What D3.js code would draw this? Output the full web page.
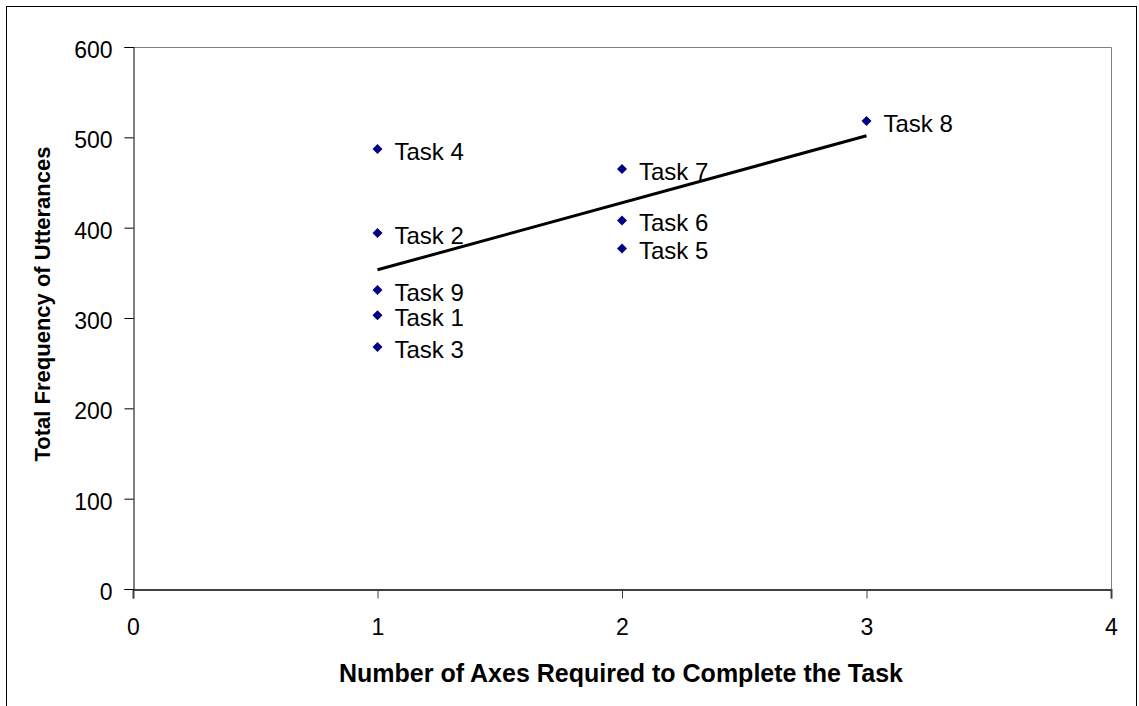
<!DOCTYPE html>
<html lang="en">
    <head>
        <meta charset="utf-8">
        <title>Utterances by Axes</title>
        <script src="https://d3js.org/d3.v7.min.js"></script>
        <style type="text/css">
            body { margin: 0; background: white; }
            text { font-family: "Liberation Sans", "Arial", sans-serif; fill: black; }
            .tick text { font-size: 23px; }
            .axis-title { font-size: 25px; font-weight: bold; }
            .y-title { font-size: 22px; }
            .label { font-size: 24px; }
        </style>
    </head>
    <body>
        <div id="chart"></div>
        <script type="text/javascript">

        //DATA
            const tasks = ["Task 1", "Task 2", "Task 3", "Task 4", "Task 5", "Task 6", "Task 7", "Task 8", "Task 9"];
            const axesNeeded = [1, 1, 1, 1, 2, 2, 2, 3, 1];
            const utterances = [303, 394, 268, 487, 377, 408, 465, 518, 331];
            const xTicks = [0, 1, 2, 3, 4];
            const yTicks = [0, 100, 200, 300, 400, 500, 600];

            const data = tasks.map((t, i) => ({task: t, x: axesNeeded[i], y: utterances[i]}));

        //CONSTANTS
            const w = 1139;
            const h = 706;
            const plotL = 133, plotR = 1111, plotT = 47, plotB = 589;

            const svg = d3.select("#chart")
                .append("svg")
                .attr("width", w)
                .attr("height", h);

            //outer frame
            svg.append("rect")
                .attr("x", 6.5).attr("y", 6.5)
                .attr("width", w - 9).attr("height", h)
                .attr("fill", "none")
                .attr("stroke", "black");

            //SCALES
            const xScale = d3.scaleLinear().domain([0, 4]).range([plotL, plotR]);
            const yScale = d3.scaleLinear().domain([0, 600]).range([plotB, plotT]);

            //plot frame (top + right)
            svg.append("path")
                .attr("d", `M${plotL},${plotT + 0.5}H${plotR + 0.5}V${plotB}`)
                .attr("fill", "none")
                .attr("stroke", "#808080");

            //AXES
            const bottomAxis = d3.axisBottom(xScale).tickValues(xTicks).tickFormat(d3.format("d"))
                                .tickSizeOuter(0).tickSize(9).tickPadding(20);
            const leftAxis = d3.axisLeft(yScale).tickValues(yTicks).tickFormat(d3.format("d"))
                                .tickSizeOuter(0).tickSize(9).tickPadding(12);

            const gx = svg.append("g")
                .attr("transform", "translate(0," + (plotB + 0.5) + ")")
                .call(bottomAxis);
            gx.select(".domain").attr("stroke", "#404040").attr("stroke-width", 2);
            gx.selectAll(".tick line").attr("stroke", "#404040");

            const gy = svg.append("g")
                .attr("transform", "translate(" + (plotL + 0.5) + ",0)")
                .call(leftAxis);
            gy.select(".domain").attr("stroke", "black");
            gy.selectAll(".tick line").attr("stroke", "black");
            gy.selectAll(".tick text").attr("dy", "0.45em");

            //TREND LINE (least squares)
            const mx = d3.mean(data, d => d.x), my = d3.mean(data, d => d.y);
            const slope = d3.sum(data, d => (d.x - mx) * (d.y - my)) / d3.sum(data, d => (d.x - mx) ** 2);
            const icpt = my - slope * mx;
            const [x0, x1] = d3.extent(data, d => d.x);
            svg.append("line")
                .attr("x1", xScale(x0)).attr("y1", yScale(icpt + slope * x0))
                .attr("x2", xScale(x1)).attr("y2", yScale(icpt + slope * x1))
                .attr("stroke", "black")
                .attr("stroke-width", 3);

            //POINTS
            svg.selectAll(".pt")
                .data(data)
                .enter()
                .append("path")
                .attr("class", "pt")
                .attr("d", "M0,-5L5,0L0,5L-5,0Z")
                .attr("transform", d => `translate(${xScale(d.x)},${yScale(d.y)})`)
                .attr("fill", "#000080");

            svg.selectAll(".label")
                .data(data)
                .enter()
                .append("text")
                .attr("class", "label")
                .attr("x", d => xScale(d.x) + 17)
                .attr("y", d => yScale(d.y) + 11)
                .text(d => d.task);

            //AXIS TITLES
            svg.append("text")
                .attr("class", "axis-title")
                .attr("text-anchor", "middle")
                .attr("x", 621)
                .attr("y", 682)
                .text("Number of Axes Required to Complete the Task");

            svg.append("text")
                .attr("class", "axis-title y-title")
                .attr("text-anchor", "middle")
                .attr("transform", "translate(50,304) rotate(-90)")
                .text("Total Frequency of Utterances");
        </script>
    </body>
</html>
